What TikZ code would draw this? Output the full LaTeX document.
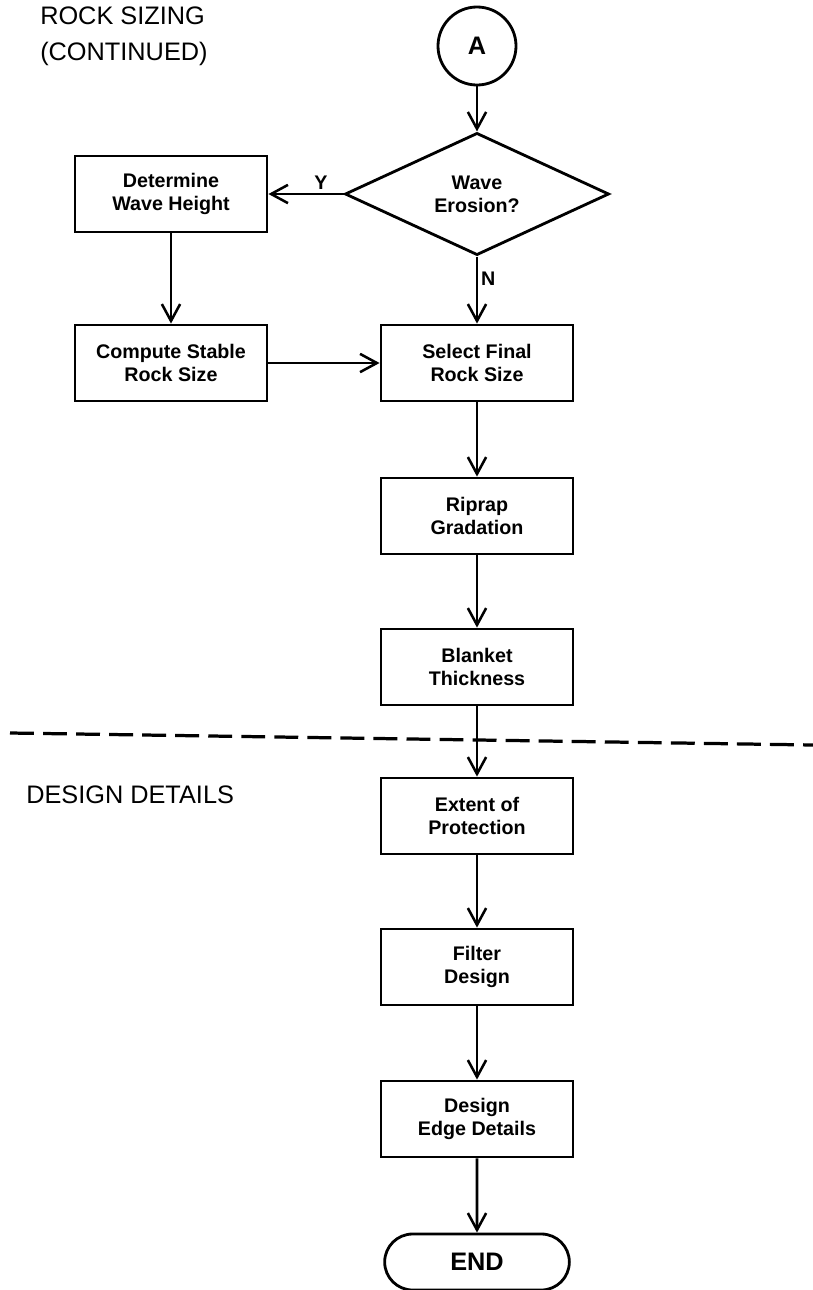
\documentclass[tikz,border=0pt]{standalone}
\usepackage{fontspec}
\setmainfont{Liberation Sans}
\usetikzlibrary{shapes.geometric,shapes.misc,arrows.meta}

\begin{document}
\begin{tikzpicture}[
    x=0.025cm, y=-0.025cm,
    box/.style={draw, line width=2pt, minimum width=4.8cm, minimum height=1.9cm,
        align=center, inner sep=2pt, font=\fontsize{14}{16.5}\selectfont\bfseries},
    decision/.style={draw, diamond, line width=2pt, minimum width=6.6cm,
        minimum height=2.75cm, inner sep=0pt, align=center,
        font=\fontsize{14}{16.5}\selectfont\bfseries},
    connector/.style={draw, circle, line width=2pt, minimum size=1.95cm,
        inner sep=0pt, font=\fontsize{18}{20}\selectfont\bfseries},
    terminal/.style={draw, rounded rectangle, line width=2pt, minimum width=4.85cm,
        minimum height=1.4cm, font=\fontsize{18}{20}\selectfont\bfseries},
    flow/.style={-{Straight Barb[length=12pt,width=13pt,line width=1.8pt]}, line width=1.8pt},
    answer/.style={font=\fontsize{14}{16}\selectfont\bfseries, inner sep=2pt},
    heading/.style={anchor=north west, inner sep=0pt, align=left,
        font=\fontsize{18}{25}\selectfont}
]

    \useasboundingbox (0,0) rectangle (813,1290);

    % section titles
    \node [heading] (rocktitle) at (40,7) {ROCK SIZING\\(CONTINUED)};
    \node [heading] (designtitle) at (26,786) {DESIGN DETAILS};

    % rock sizing part
    \node [connector] (start) at (477,46) {A};
    \node [decision] (erosion) at (477,194) {Wave\\Erosion?};
    \node [box] (waveheight) at (171,194) {Determine\\Wave Height};
    \node [box] (stablesize) at (171,363) {Compute Stable\\Rock Size};
    \node [box] (finalsize) at (477,363) {Select Final\\Rock Size};
    \node [box] (gradation) at (477,516) {Riprap\\Gradation};
    \node [box] (thickness) at (477,667) {Blanket\\Thickness};

    % design details part
    \node [box] (extent) at (477,816) {Extent of\\Protection};
    \node [box] (filter) at (477,967) {Filter\\Design};
    \node [box] (edge) at (477,1119) {Design\\Edge Details};
    \node [terminal] (end) at (477,1262) {END};

    % separation between the two parts
    \draw [line width=2.3pt, dash pattern=on 17pt off 6.5pt]
        (10,733) -- (813,745);

    \draw [flow] (start) -- (erosion);
    \draw [flow] (erosion) -- node [answer, above, pos=0.3] {Y} (waveheight);
    \draw [flow] (erosion) -- node [answer, right, pos=0.33] {N} (finalsize);
    \draw [flow] (waveheight) -- (stablesize);
    \draw [flow] (stablesize) -- (finalsize);
    \draw [flow] (finalsize) -- (gradation);
    \draw [flow] (gradation) -- (thickness);
    \draw [flow] (thickness) -- (extent);
    \draw [flow] (extent) -- (filter);
    \draw [flow] (filter) -- (edge);
    \draw [flow] (edge) -- (end);

\end{tikzpicture}
\end{document}
